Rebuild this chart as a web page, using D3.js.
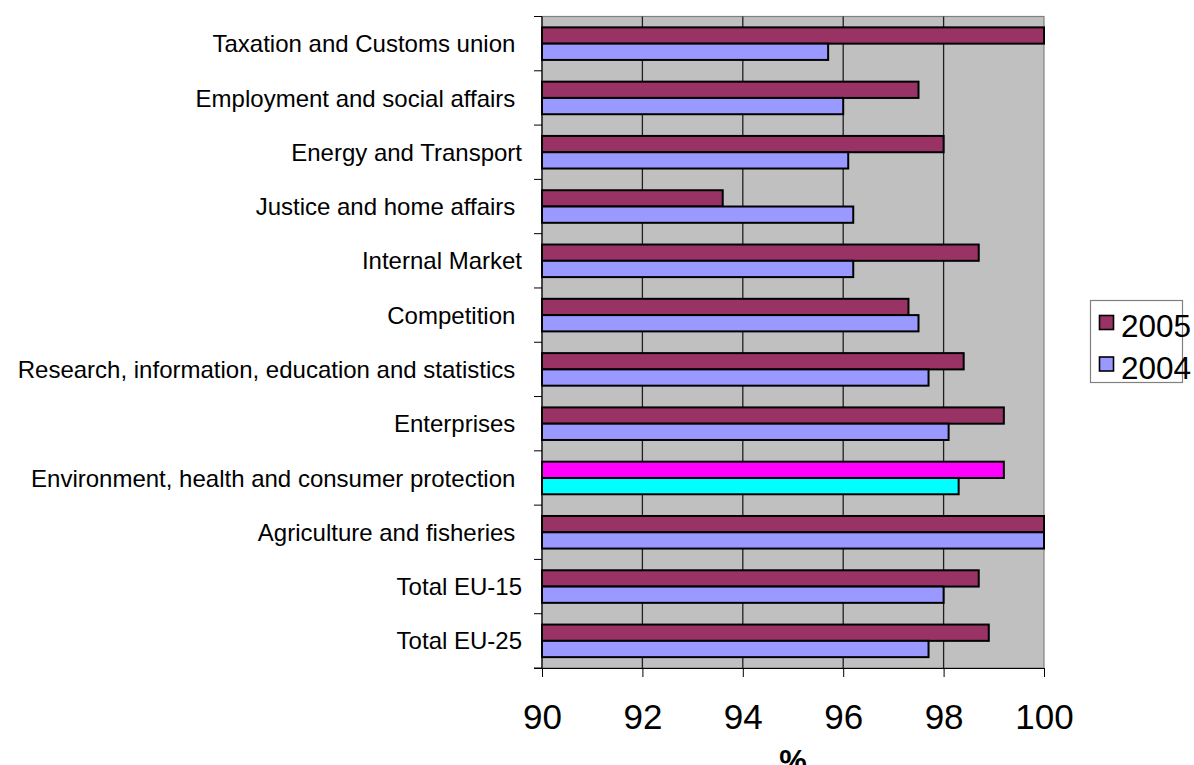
<!DOCTYPE html>
<html>
<head>
<meta charset="utf-8">
<script src="https://cdn.jsdelivr.net/npm/d3@7"></script>
<style>
  html, body { margin: 0; padding: 0; background: #fff; }
  svg { display: block; font-family: "Liberation Sans", Arial, sans-serif; }
  text { white-space: pre; }
</style>
</head>
<body>
<svg id="chart" width="1194" height="765"></svg>
<script>
const categories = [
  "Taxation and Customs union ",
  "Employment and social affairs ",
  "Energy and Transport",
  "Justice and home affairs ",
  "Internal Market",
  "Competition ",
  "Research, information, education and statistics ",
  "Enterprises ",
  "Environment, health and consumer protection ",
  "Agriculture and fisheries ",
  "Total EU-15",
  "Total EU-25"
];
const series = ["2005", "2004"];
const values2005 = [100, 97.5, 98.0, 93.6, 98.7, 97.3, 98.4, 99.2, 99.2, 100, 98.7, 98.9];
const values2004 = [95.7, 96.0, 96.1, 96.2, 96.2, 97.5, 97.7, 98.1, 98.3, 100, 98.0, 97.7];
const xTicks = [90, 92, 94, 96, 98, 100];
const seriesColors = {"2005": "#993366", "2004": "#9999FF"};
const highlightCategory = "Environment, health and consumer protection ";
const highlightColors = {"2005": "#FF00FF", "2004": "#00FFFF"};
const xTitle = "%";

const svg = d3.select("#chart");
const plot = {left: 542, right: 1044, top: 16.5, bottom: 668};

const x = d3.scaleLinear().domain([90, 100]).range([plot.left, plot.right]);
const y = d3.scaleBand().domain(categories).range([plot.top, plot.bottom]).padding(0);
const inner = d3.scaleBand().domain(series).range([0, y.bandwidth()]).paddingInner(0).paddingOuter(0.667);

// plot background
svg.append("rect")
  .attr("x", plot.left).attr("y", plot.top)
  .attr("width", plot.right - plot.left).attr("height", plot.bottom - plot.top)
  .attr("fill", "#C0C0C0").attr("stroke", "#808080").attr("stroke-width", 1.2);

// gridlines
svg.append("g").selectAll("line")
  .data(xTicks.filter(t => t > 90 && t < 100))
  .join("line")
  .attr("x1", d => x(d)).attr("x2", d => x(d))
  .attr("y1", plot.top).attr("y2", plot.bottom)
  .attr("stroke", "#202020").attr("stroke-width", 1.3);

// bars
const rows = categories.map((c, i) => ({cat: c, v: {"2005": values2005[i], "2004": values2004[i]}}));
const groups = svg.append("g").selectAll("g")
  .data(rows).join("g")
  .attr("transform", d => `translate(0,${y(d.cat)})`);
groups.selectAll("rect")
  .data(d => series.map(s => ({cat: d.cat, s, v: d.v[s]})))
  .join("rect")
  .attr("x", x(90))
  .attr("y", d => inner(d.s))
  .attr("width", d => x(d.v) - x(90))
  .attr("height", inner.bandwidth())
  .attr("fill", d => d.cat === highlightCategory ? highlightColors[d.s] : seriesColors[d.s])
  .attr("stroke", "#000").attr("stroke-width", 2);

// y axis line and ticks at band boundaries
const boundaries = categories.map(c => y(c)).concat([plot.bottom]);
svg.append("line")
  .attr("x1", plot.left).attr("x2", plot.left)
  .attr("y1", plot.top).attr("y2", plot.bottom)
  .attr("stroke", "#000").attr("stroke-width", 1.2);
svg.append("g").selectAll("line")
  .data(boundaries).join("line")
  .attr("x1", plot.left - 8).attr("x2", plot.left)
  .attr("y1", d => d).attr("y2", d => d)
  .attr("stroke", "#000").attr("stroke-width", 1);

// category labels
svg.append("g").selectAll("text")
  .data(categories).join("text")
  .attr("x", 522)
  .attr("y", d => y(d) + y.bandwidth() / 2)
  .attr("dy", "0.36em")
  .attr("text-anchor", "end")
  .attr("font-size", 24)
  .attr("fill", "#000")
  .text(d => d);

// x axis
const xAxis = svg.append("g")
  .attr("transform", `translate(0,${plot.bottom})`)
  .call(d3.axisBottom(x).tickValues(xTicks).tickSize(9).tickSizeOuter(0).tickFormat(d3.format("d")));
xAxis.select(".domain").attr("stroke", "#000").attr("stroke-width", 1.2).attr("d", `M${plot.left - 8},0.5H${plot.right}`);
xAxis.selectAll(".tick line").attr("stroke", "#000");
xAxis.selectAll(".tick text")
  .attr("y", 61).attr("dy", null)
  .attr("font-size", 35)
  .attr("font-family", "Liberation Sans, Arial, sans-serif")
  .attr("fill", "#000");

// x title
svg.append("text")
  .attr("x", (plot.left + plot.right) / 2)
  .attr("y", 772)
  .attr("text-anchor", "middle")
  .attr("font-size", 31)
  .attr("font-weight", "bold")
  .text(xTitle);

// legend
const legend = svg.append("g");
legend.append("rect")
  .attr("x", 1090.5).attr("y", 300.5).attr("width", 92).attr("height", 82)
  .attr("fill", "#fff").attr("stroke", "#808080").attr("stroke-width", 1.2);
const legendItems = legend.selectAll("g.item")
  .data(series).join("g").attr("class", "item")
  .attr("transform", (d, i) => `translate(0,${i * 41.5})`);
legendItems.append("rect")
  .attr("x", 1099.5).attr("y", 315.5).attr("width", 14).attr("height", 14)
  .attr("fill", d => seriesColors[d]).attr("stroke", "#000").attr("stroke-width", 1.6);
legendItems.append("text")
  .attr("x", 1121).attr("y", 337)
  .attr("font-size", 31.5)
  .attr("fill", "#000")
  .text(d => d);
</script>
</body>
</html>
